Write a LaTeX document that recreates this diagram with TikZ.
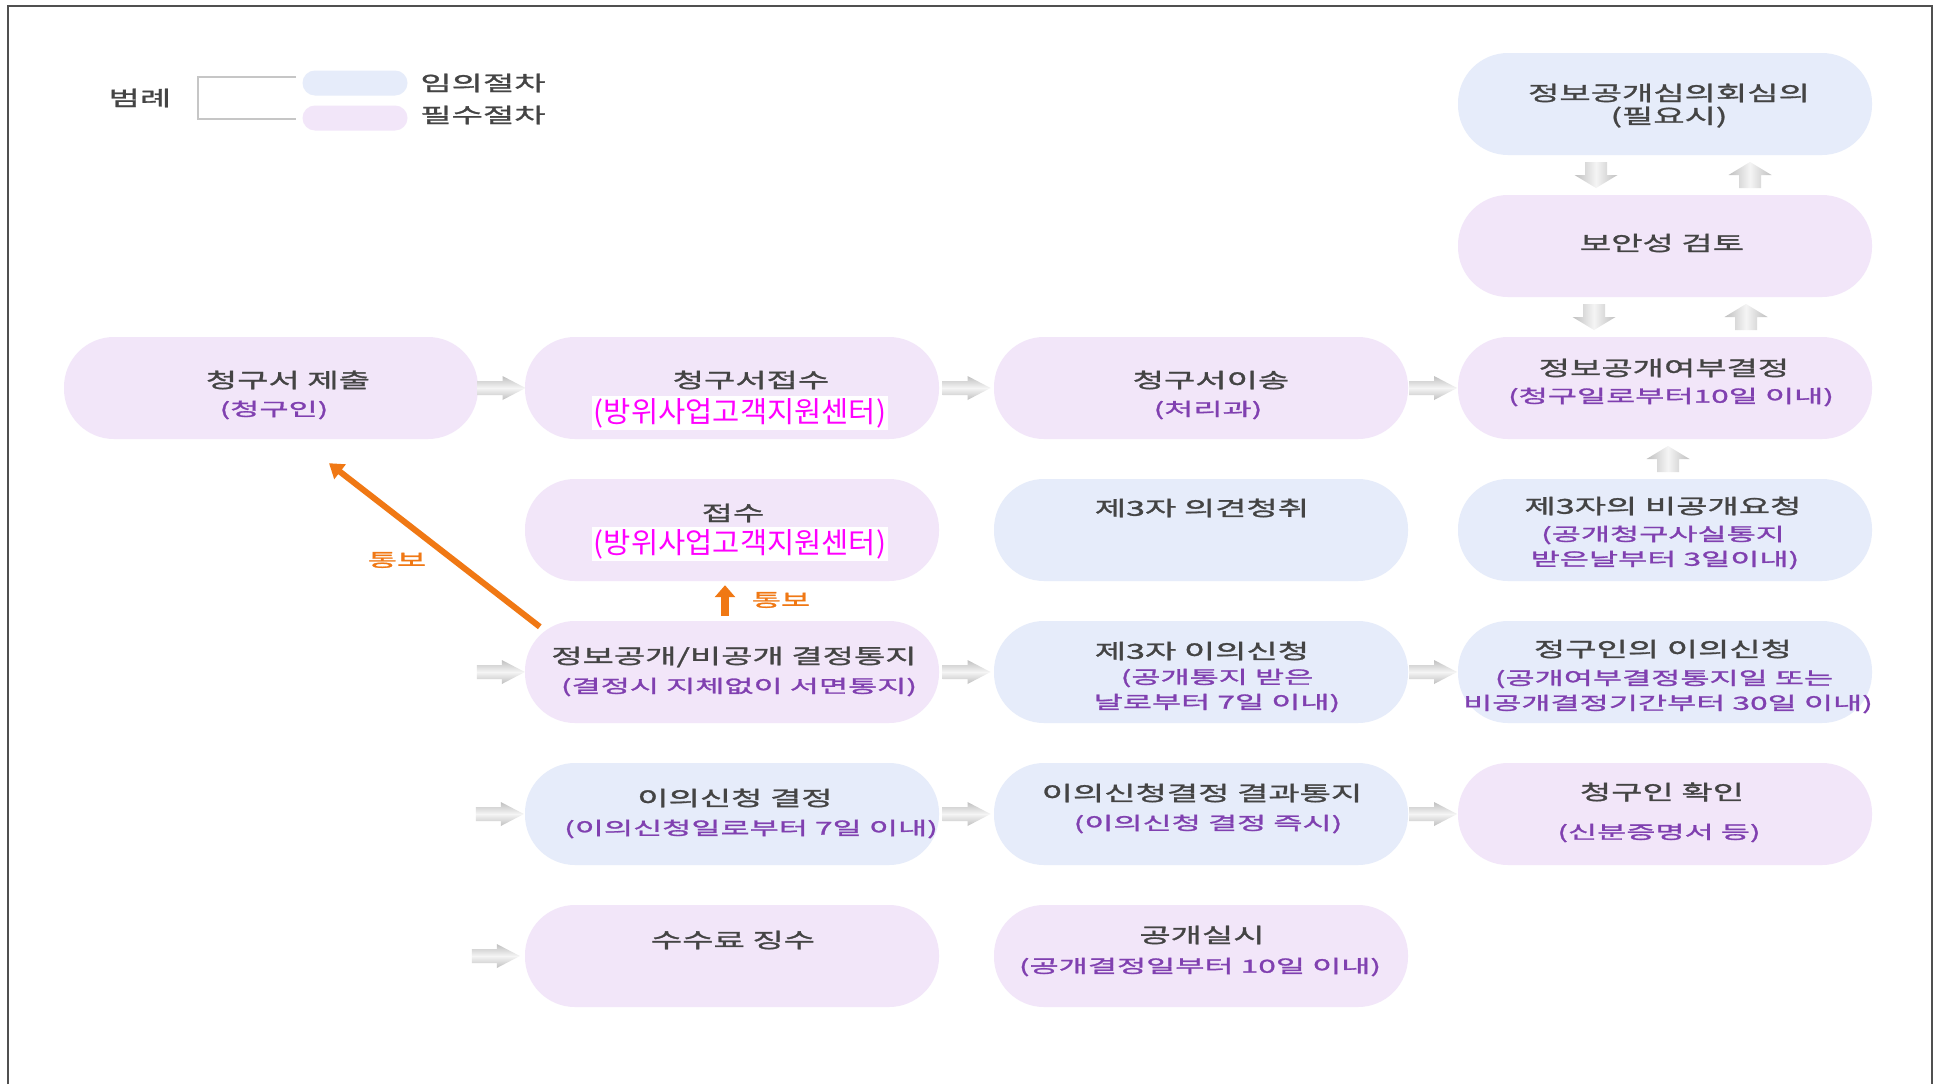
\documentclass[tikz,border=0pt]{standalone}
\usepackage{fontspec}
\newfontfamily\tfontk[FakeStretch=1.66,FakeBold=1.5]{Noto Sans CJK KR}
\newfontfamily\sfontk[FakeStretch=1.76,FakeBold=1.5]{Noto Sans CJK KR}
\newfontfamily\mfontk[FakeStretch=1.02]{Noto Sans CJK KR}
\usetikzlibrary{arrows.meta,calc}
\definecolor{blueF}{RGB}{230,236,250}
\definecolor{pinkF}{RGB}{242,230,249}
\definecolor{ttl}{RGB}{68,68,68}
\definecolor{subc}{RGB}{128,64,176}
\definecolor{mag}{RGB}{255,0,255}
\definecolor{org}{RGB}{240,120,20}
\definecolor{frm}{RGB}{80,80,80}
\tikzset{
 pill/.style={rectangle, rounded corners=50pt, minimum width=414pt, minimum height=102pt, inner sep=0pt, draw=none},
 opt/.style={pill, fill=blueF},
 req/.style={pill, fill=pinkF},
 ttext/.style={inner sep=0pt, text=ttl, font=\fontsize{20.5}{24}\tfontk},
 stext/.style={inner sep=0pt, text=subc, font=\fontsize{18}{22}\sfontk},
 mtext/.style={fill=white, inner sep=2pt, text=mag, font=\fontsize{29}{32}\mfontk},
 otext/.style={inner sep=0pt, text=org, font=\fontsize{18}{22}\sfontk},
 oarrow/.style={draw=org, line width=6pt, -{Triangle[length=14pt,width=18pt]}},
 harrshade/.style={top color=gray!50, bottom color=gray!50, middle color=gray!8, draw=none},
 varrshade/.style={left color=gray!50, right color=gray!50, middle color=gray!8, draw=none},
}
\newcommand{\hArrowG}[1]{\shade[harrshade] ([shift={(-24,-7)}]#1) -- ++(25,0) -- ++(0,-5) -- ++(23,12) -- ++(-23,12) -- ++(0,-5) -- ++(-25,0) -- cycle;}
\newcommand{\dArrowG}[1]{\shade[varrshade] ([shift={(-11,-13)}]#1) -- ++(22,0) -- ++(0,13) -- ++(10.5,0) -- ++(-21.5,13) -- ++(-21.5,-13) -- ++(10.5,0) -- cycle;}
\newcommand{\uArrowG}[1]{\shade[varrshade] ([shift={(-11,13)}]#1) -- ++(22,0) -- ++(0,-13) -- ++(10.5,0) -- ++(-21.5,-13) -- ++(-21.5,13) -- ++(10.5,0) -- cycle;}
\begin{document}
\begin{tikzpicture}[x=1pt,y=-1pt]
\useasboundingbox[fill=white] (0,0) rectangle (1937,1084);
\draw[frm, line width=1.5pt] (8,1084) -- (8,6) -- (1932,6) -- (1932,1084);
% legend
\node[ttext] (lg) at (140,98) {범례};
\draw[gray!45, line width=2pt] (296,77) -- (198,77) -- (198,119) -- (296,119);
\node[rectangle, rounded corners=12.5pt, minimum width=105pt, minimum height=25pt, inner sep=0pt, fill=blueF] (lgb) at (355,83) {};
\node[rectangle, rounded corners=12.5pt, minimum width=105pt, minimum height=25pt, inner sep=0pt, fill=pinkF] (lgp) at (355,118) {};
\node[ttext] (lgbt) at (483,83) {임의절차};
\node[ttext] (lgpt) at (483,115) {필수절차};
% nodes
\node[opt] (A) at (1665,104) {};
\node[req] (B) at (1665,246) {};
\node[req] (n1) at (271,388) {};
\node[req] (n2) at (732,388) {};
\node[req] (n3) at (1201,388) {};
\node[req] (n4) at (1665,388) {};
\node[req] (rcv) at (732,530) {};
\node[opt] (t3) at (1201,530) {};
\node[opt] (np) at (1665,530) {};
\node[req] (dec) at (732,672) {};
\node[opt] (ob3) at (1201,672) {};
\node[opt] (obq) at (1665,672) {};
\node[opt] (od) at (732,814) {};
\node[opt] (on) at (1201,814) {};
\node[req] (ci) at (1665,814) {};
\node[req] (fee) at (732,956) {};
\node[req] (exe) at (1201,956) {};
% texts
\node[ttext] (At1) at (1669,93) {정보공개심의회심의};
\node[ttext] (At2) at (1669,117) {(필요시)};
\node[ttext] (Bt1) at (1662,243) {보안성 검토};
\node[ttext] (n1t) at (288,380) {청구서 제출};
\node[stext] (n1s) at (274,410) {(청구인)};
\node[ttext] (n2t) at (751,380) {청구서접수};
\node[mtext] (n2m) at (740,413) {(방위사업고객지원센터)};
\node[ttext] (n3t) at (1211,380) {청구서이송};
\node[stext] (n3s) at (1208,410) {(처리과)};
\node[ttext] (n4t) at (1664,368) {정보공개여부결정};
\node[stext] (n4s) at (1671,397) {(청구일로부터10일 이내)};
\node[ttext] (rct) at (733,513) {접수};
\node[mtext] (rcm) at (740,544) {(방위사업고객지원센터)};
\node[ttext] (t3t) at (1202,508) {제3자 의견청취};
\node[ttext] (npt) at (1663,506) {제3자의 비공개요청};
\node[stext] (nps1) at (1663,535) {(공개청구사실통지};
\node[stext] (nps2) at (1665,560) {받은날부터 3일이내)};
\node[ttext] (dect) at (734,657) {정보공개/비공개 결정통지};
\node[stext] (decs) at (739,687) {(결정시 지체없이 서면통지)};
\node[ttext] (ob3t) at (1202,651) {제3자 이의신청};
\node[stext] (ob3s1) at (1217,678) {(공개통지 받은};
\node[stext] (ob3s2) at (1217,703) {날로부터 7일 이내)};
\node[ttext] (obqt) at (1663,649) {정구인의 이의신청};
\node[stext] (obqs1) at (1664,679) {(공개여부결정통지일 또는};
\node[stext] (obqs2) at (1668,704) {비공개결정기간부터 30일 이내)};
\node[ttext] (odt) at (735,798) {이의신청 결정};
\node[stext] (ods) at (751,829) {(이의신청일로부터 7일 이내)};
\node[ttext] (ont) at (1202,793) {이의신청결정 결과통지};
\node[stext] (ons) at (1208,824) {(이의신청 결정 즉시)};
\node[ttext] (cit) at (1662,792) {청구인 확인};
\node[stext] (cis) at (1659,833) {(신분증명서 등)};
\node[ttext] (feet) at (733,940) {수수료 징수};
\node[ttext] (exet) at (1202,935) {공개실시};
\node[stext] (exes) at (1200,967) {(공개결정일부터 10일 이내)};
% gray arrows
\path ($(n1.east)!0.5!(n2.west)$) coordinate (g1);
\path ($(n2.east)!0.5!(n3.west)$) coordinate (g2);
\path ($(n3.east)!0.5!(n4.west)$) coordinate (g3);
\path ([xshift=-24]dec.west) coordinate (g4);
\path ($(dec.east)!0.5!(ob3.west)$) coordinate (g5);
\path ($(ob3.east)!0.5!(obq.west)$) coordinate (g6);
\path ([xshift=-25]od.west) coordinate (g7);
\path ($(od.east)!0.5!(on.west)$) coordinate (g8);
\path ($(on.east)!0.5!(ci.west)$) coordinate (g9);
\path ([xshift=-29]fee.west) coordinate (g10);
\hArrowG{g1}
\hArrowG{g2}
\hArrowG{g3}
\hArrowG{g4}
\hArrowG{g5}
\hArrowG{g6}
\hArrowG{g7}
\hArrowG{g8}
\hArrowG{g9}
\hArrowG{g10}
\path ($(A.south)!0.5!(B.north)$) coordinate (ab);
\path ($(B.south)!0.5!(n4.north)$) coordinate (bc);
\path ($(n4.south)!0.5!(np.north)$) coordinate (cd);
\path ([xshift=-69]ab) coordinate (ab1);
\path ([xshift=85]ab) coordinate (ab2);
\path ([xshift=-71]bc) coordinate (bc1);
\path ([xshift=81]bc) coordinate (bc2);
\path ([xshift=3]cd) coordinate (cd1);
\dArrowG{ab1}
\uArrowG{ab2}
\dArrowG{bc1}
\uArrowG{bc2}
\uArrowG{cd1}
% orange arrows
\draw[oarrow] ([shift={(15,6)}]dec.north west) -- ([shift={(58,24)}]n1.south);
\node[otext] (tb1) at (397,560) {통보};
\draw[oarrow, line width=8pt, -{Triangle[length=12pt,width=20pt]}] ([shift={(-7,-5)}]dec.north) -- ([shift={(-7,4)}]rcv.south);
\node[otext] (tb2) at (781,600) {통보};
\end{tikzpicture}
\end{document}
